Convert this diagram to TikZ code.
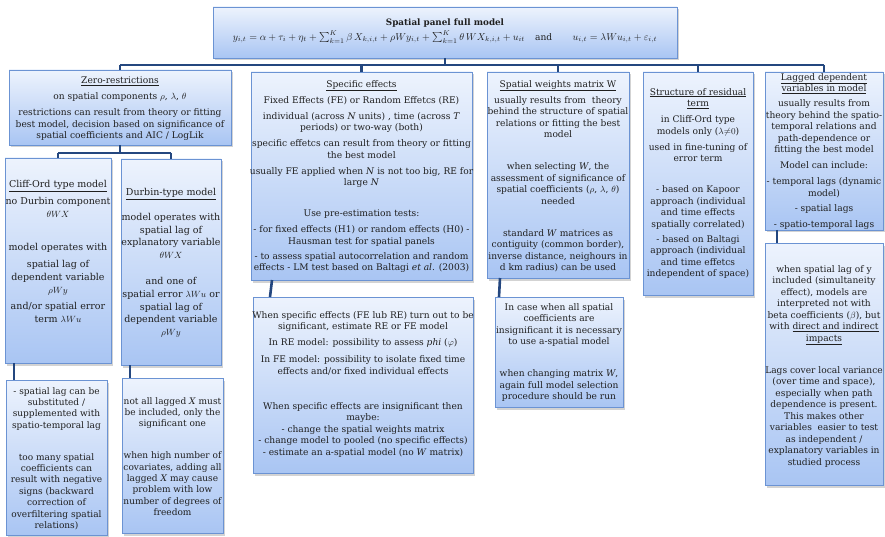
\documentclass[tikz,border=0pt]{standalone}
\usepackage{fontspec}
\setmainfont{DejaVu Serif}
\usetikzlibrary{shadows,calc}
\definecolor{boxline}{HTML}{6B93D3}
\definecolor{boxtop}{HTML}{EDF3FD}
\definecolor{boxbot}{HTML}{A9C5F3}
\definecolor{conncol}{HTML}{24477F}
\newcommand\mkpanel[5]{%
  \pgfmathsetmacro\pbw{#4-#2}\pgfmathsetmacro\pbh{#5-#3}%
  \node[panel,minimum width=\pbw pt,minimum height=\pbh pt] (#1) at (#2,#3) {};}
\tikzset{
  panel/.style={draw=boxline, line width=0.8pt, top color=boxtop, bottom color=boxbot,
    drop shadow={opacity=0.35, shadow xshift=1.5pt, shadow yshift=-2.5pt},
    inner sep=0pt, outer sep=0pt, anchor=north west},
  txt/.style={align=center, inner sep=0pt, anchor=north, text=black!88,
    font=\fontsize{9.1}{11.5}\selectfont},
  bigtxt/.style={txt, font=\fontsize{9.5}{12.8}\selectfont},
  midtxt/.style={txt, font=\fontsize{9.0}{11.4}\selectfont},
  conn/.style={draw=conncol, line width=2.6pt},
}
\begin{document}
\begin{tikzpicture}[x=1pt,y=-1pt]
\useasboundingbox (0,0) rectangle (885,537);
% boxes
\mkpanel{top}{213}{7}{677}{58}
\mkpanel{zero}{9}{70}{231}{145}
\mkpanel{cliff}{5}{158}{111}{363}
\mkpanel{durbin}{121}{159}{221}{365}
\mkpanel{cliffL}{6}{380}{107}{535}
\mkpanel{durbinL}{122}{378}{223}{533}
\mkpanel{spec}{251}{72}{472}{280}
\mkpanel{specL}{253}{297}{473}{473}
\mkpanel{wmat}{487}{72}{629}{278}
\mkpanel{wmatL}{495}{297}{623}{407}
\mkpanel{res}{643}{72}{753}{295}
\mkpanel{lag}{765}{72}{883}{230}
\mkpanel{lagL}{765}{243}{883}{485}
% connectors
\coordinate (bar) at ($(top.south)+(0,7)$);
\draw[conn] (top.south) -- (bar);
\draw[conn] (bar -| zero.north) -- (bar -| lag.north);
\foreach \n in {zero,spec,wmat,res,lag} \draw[conn] (bar -| \n.north) -- (\n.north);
\coordinate (bar2) at ($(zero.south)+(0,8)$);
\draw[conn] (zero.south) -- (bar2);
\draw[conn] (bar2 -| cliff.north) -- (bar2 -| durbin.north);
\draw[conn] (bar2 -| cliff.north) -- (cliff.north);
\draw[conn] (bar2 -| durbin.north) -- (durbin.north);
\draw[conn] ([xshift=9pt]cliff.south west) -- ([xshift=8pt]cliffL.north west);
\draw[conn] ([xshift=9pt]durbin.south west) -- ([xshift=8pt]durbinL.north west);
\draw[conn] ([xshift=21pt]spec.south west) -- ([xshift=17pt]specL.north west);
\draw[conn] ([xshift=13pt]wmat.south west) -- ([xshift=4pt]wmatL.north west);
\draw[conn] ([xshift=12pt]lag.south west) -- ([xshift=12pt]lagL.north west);
% texts
\node[txt, anchor=base, font=\fontsize{8.8}{11}\selectfont\bfseries] (top-title) at (445,25.5) {Spatial panel full model};
\node[txt, anchor=base, font=\fontsize{10.2}{11.5}\selectfont] (top-formula) at (445,40.5) {$y_{i,t}=\alpha+\tau_i+\eta_t+\sum_{k=1}^{K}\beta\,X_{k,i,t}+\rho W y_{i,t}+\sum_{k=1}^{K}\theta\,W X_{k,i,t}+u_{it}$\quad {\fontsize{9.1}{11}\selectfont and}\qquad $u_{i,t}=\lambda W u_{i,t}+\varepsilon_{i,t}$};
\node[txt] (zero-t) at (120,77) {\underline{Zero-restrictions}\\[4.5pt]
on spatial components $\rho$, $\lambda$, $\theta$\\[4.5pt]
restrictions can result from theory or fitting\\
best model, decision based on significance of\\
spatial coefficients and AIC / LogLik};
\node[bigtxt] (cliff-t) at (58,180) {\underline{Cliff-Ord type model}\\[4pt]
no Durbin component\\ $\theta W X$\\[21pt]
model operates with\\[4pt]
spatial lag of\\ dependent variable\\ $\rho W y$\\[3pt]
and/or spatial error\\[1pt] term $\lambda W u$};
\node[bigtxt] (durbin-t) at (171,188) {\underline{Durbin-type model}\\[12pt]
model operates with\\ spatial lag of\\ explanatory variable\\ $\theta W X$\\[13pt]
and one of\\ spatial error $\lambda W u$ or\\ spatial lag of\\ dependent variable\\ $\rho W y$};
\node[midtxt] (cliffL-t) at (56.5,387) {- spatial lag can be\\ substituted /\\ supplemented with\\ spatio-temporal lag\\[20.5pt]
too many spatial\\ coefficients can\\ result with negative\\ signs (backward\\ correction of\\ overfiltering spatial\\ relations)};
\node[midtxt] (durbinL-t) at (172.5,397) {not all lagged \textit{X} must\\ be included, only the\\ significant one\\[20.5pt]
when high number of\\ covariates, adding all\\ lagged \textit{X} may cause\\ problem with low\\ number of degrees of\\ freedom};
\node[txt] (spec-t) at (361.5,80) {\underline{Specific effects}\\[4.5pt]
Fixed Effects (FE) or Random Effetcs (RE)\\[4.5pt]
individual (across \textit{N} units) , time (across \textit{T}\\ periods) or two-way (both)\\[4.5pt]
specific effetcs can result from theory or fitting\\ the best model\\[4.5pt]
usually FE applied when \textit{N} is not too big, RE for\\ large \textit{N}\\[19.5pt]
Use pre-estimation tests:\\[4.5pt]
- for fixed effects (H1) or random effects (H0) -\\ Hausman test for spatial panels\\[3.5pt]
- to assess spatial autocorrelation and random\\ effects - LM test based on Baltagi \textit{et al}. (2003)};
\node[txt] (specL-t) at (363,311) {When specific effects (FE lub RE) turn out to be\\ significant, estimate RE or FE model\\[4.5pt]
In RE model: possibility to assess \textit{phi} ($\varphi$)\\[5pt]
In FE model: possibility to isolate fixed time\\[1pt] effects and/or fixed individual effects\\[23pt]
When specific effects are insignificant then\\ maybe:\\ - change the spatial weights matrix\\ - change model to pooled (no specific effects)\\ - estimate an a-spatial model (no \textit{W} matrix)};
\node[txt] (wmat-t) at (558,80) {\underline{Spatial weights matrix W}\\[4.5pt]
usually results from\ \ theory\\ behind the structure of spatial\\ relations or fitting the best\\ model\\[20.5pt]
when selecting \textit{W}, the\\ assessment of significance of\\ spatial coefficients ($\rho$, $\lambda$, $\theta$)\\ needed\\[20.5pt]
standard \textit{W} matrices as\\ contiguity (common border),\\ inverse distance, neighours in\\ d km radius) can be used};
\node[txt] (wmatL-t) at (559,303) {In case when all spatial\\ coefficients are\\ insignificant it is necessary\\ to use a-spatial model\\[20.5pt]
when changing matrix \textit{W},\\ again full model selection\\ procedure should be run};
\node[txt] (res-t) at (698,88) {\underline{Structure of residual}\\ \underline{term}\\[4.5pt]
in Cliff-Ord type\\ models only ($\lambda{\neq}0$)\\[4.5pt]
used in fine-tuning of\\ error term\\[19.5pt]
- based on Kapoor\\ approach (individual\\ and time effects\\ spatially correlated)\\[3.5pt]
- based on Baltagi\\ approach (individual\\ and time effetcs\\ independent of space)};
\node[txt] (lag-t) at (824,73) {\underline{Lagged dependent}\\ \underline{variables in model}\\[3.5pt]
usually results from\\ theory behind the spatio-\\ temporal relations and\\ path-dependence or\\ fitting the best model\\[4.5pt]
Model can include:\\[4.5pt]
- temporal lags (dynamic\\ model)\\[3.5pt]
- spatial lags\\[4.5pt]
- spatio-temporal lags};
\node[txt] (lagL-t) at (824,265) {when spatial lag of y\\ included (simultaneity\\ effect), models are\\ interpreted not with\\ beta coefficients ($\beta$), but\\ with \underline{direct and indirect}\\ \underline{impacts}\\[20.5pt]
Lags cover local variance\\ (over time and space),\\ especially when path\\ dependence is present.\\ This makes other\\ variables\ \ easier to test\\ as independent /\\ explanatory variables in\\ studied process};
\end{tikzpicture}
\end{document}
